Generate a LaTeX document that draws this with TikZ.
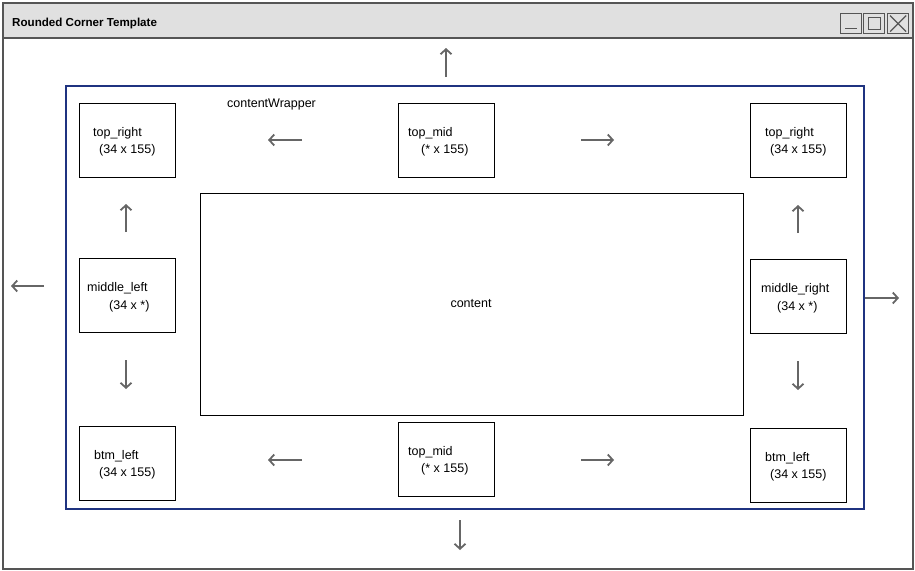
\documentclass[tikz,border=0pt]{standalone}
\usepackage{fontspec}
\setmainfont{Liberation Sans}
\usetikzlibrary{arrows.meta}
\definecolor{wingray}{HTML}{555555}
\definecolor{barfill}{HTML}{E0E0E0}
\definecolor{wrapblue}{HTML}{1F3380}
\definecolor{arrgray}{HTML}{666666}
\tikzset{
  cellbox/.style={draw=black, line width=1pt, minimum width=96pt, minimum height=74pt, inner sep=0pt, anchor=north west},
  lbl/.style={anchor=base west, inner sep=0pt, font=\fontsize{12.5}{14}\selectfont},
  flow/.style={draw=arrgray, line width=1.8pt, -{Straight Barb[length=5pt,width=11pt]}},
  btn/.style={draw=wingray, line width=1.2pt, minimum width=21pt, minimum height=20pt, inner sep=0pt, anchor=north west},
}
\begin{document}
\begin{tikzpicture}[x=1pt,y=-1pt]
\useasboundingbox (0,0) rectangle (915,570);
% window
\node[draw=wingray, line width=1.5pt, minimum width=910pt, minimum height=566pt, inner sep=0pt, anchor=north west] (win) at (2,2) {};
\node[draw=wingray, fill=barfill, line width=1.5pt, minimum width=910pt, minimum height=35pt, inner sep=0pt, anchor=north west] (bar) at (2,2) {};
\node[anchor=base west, inner sep=0pt, font=\bfseries\fontsize{11.6}{13}\selectfont] (title) at (12,27) {Rounded Corner Template};
\node[btn] (bmin) at (840,13) {};
\node[btn] (bmax) at (863,13) {};
\node[btn] (bclose) at (887,13) {};
\draw[wingray, line width=1.2pt] ([xshift=-6pt,yshift=-5pt]bmin.center) -- ([xshift=6pt,yshift=-5pt]bmin.center);
\draw[wingray, line width=1.2pt] ([xshift=-6pt,yshift=-6pt]bmax.center) rectangle ([xshift=6pt,yshift=6pt]bmax.center);
\draw[wingray, line width=1.2pt] ([xshift=-8pt,yshift=-8pt]bclose.center) -- ([xshift=8pt,yshift=8pt]bclose.center)
  ([xshift=-8pt,yshift=8pt]bclose.center) -- ([xshift=8pt,yshift=-8pt]bclose.center);
% wrapper
\node[draw=wrapblue, line width=2pt, minimum width=798pt, minimum height=423pt, inner sep=0pt, anchor=north west] (wrap) at (65,85) {};
\node[lbl] (wraplbl) at (227,107) {contentWrapper};
% content
\node[draw=black, line width=1pt, minimum width=543pt, minimum height=222pt, inner sep=0pt, anchor=north west] (content) at (200,193) {};
\node[font=\fontsize{12.5}{14}\selectfont, inner sep=0pt] (contentlbl) at (471,304) {content};
% boxes
\node[cellbox] (tl) at (79,103) {};
\node[lbl] (tla) at (93,136) {top\_right};
\node[lbl] (tlb) at (99,153) {(34 x 155)};
\node[cellbox] (tm) at (398,103) {};
\node[lbl] (tma) at (408,136) {top\_mid};
\node[lbl] (tmb) at (421,153) {(* x 155)};
\node[cellbox] (tr) at (750,103) {};
\node[lbl] (tra) at (765,136) {top\_right};
\node[lbl] (trb) at (770,153) {(34 x 155)};
\node[cellbox] (ml) at (79,258) {};
\node[lbl] (mla) at (87,291) {middle\_left};
\node[lbl] (mlb) at (109,309) {(34 x *)};
\node[cellbox] (mr) at (750,259) {};
\node[lbl] (mra) at (761,292) {middle\_right};
\node[lbl] (mrb) at (777,310) {(34 x *)};
\node[cellbox] (bl) at (79,426) {};
\node[lbl] (bla) at (94,459) {btm\_left};
\node[lbl] (blb) at (99,476) {(34 x 155)};
\node[cellbox] (bm) at (398,422) {};
\node[lbl] (bma) at (408,455) {top\_mid};
\node[lbl] (bmb) at (421,472) {(* x 155)};
\node[cellbox] (br) at (750,428) {};
\node[lbl] (bra) at (765,461) {btm\_left};
\node[lbl] (brb) at (770,478) {(34 x 155)};
% arrow endpoints
\coordinate (a1s) at (446,77); \coordinate (a1e) at (446,48);
\coordinate (a2s) at (302,140); \coordinate (a2e) at (268,140);
\coordinate (a3s) at (581,140); \coordinate (a3e) at (614,140);
\coordinate (a4s) at (126,232); \coordinate (a4e) at (126,204);
\coordinate (a5s) at (798,233); \coordinate (a5e) at (798,205);
\coordinate (a6s) at (44,286); \coordinate (a6e) at (11,286);
\coordinate (a7s) at (865,298); \coordinate (a7e) at (899,298);
\coordinate (a8s) at (126,360); \coordinate (a8e) at (126,389);
\coordinate (a9s) at (798,361); \coordinate (a9e) at (798,390);
\coordinate (a10s) at (302,460); \coordinate (a10e) at (268,460);
\coordinate (a11s) at (581,460); \coordinate (a11e) at (614,460);
\coordinate (a12s) at (460,520); \coordinate (a12e) at (460,550);
\foreach \i in {1,...,12} { \draw[flow] (a\i s) -- (a\i e); }
\end{tikzpicture}
\end{document}
